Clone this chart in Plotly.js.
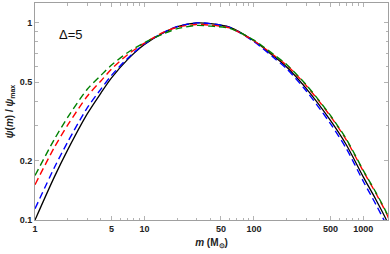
<!DOCTYPE html>
<html>
<head>
<meta charset="utf-8">
<script src="https://cdn.plot.ly/plotly-3.0.1.min.js"></script>
<style>html,body{margin:0;padding:0;background:#fff;}#chart{width:390px;height:254px;}</style>
</head>
<body>
<div id="chart"></div>
<script>
// masses (solar masses)
const mass = [1, 1.5, 2, 3, 4, 5, 7, 10, 15, 20, 30, 40, 60, 100, 150, 200, 300, 500, 700, 1000, 1300, 1650, 1800];
// psi(m)/psi_max
const psiBlack = [0.100, 0.165, 0.228, 0.345, 0.440, 0.525, 0.650, 0.775, 0.890, 0.955, 0.998, 0.990, 0.950, 0.810, 0.680, 0.595, 0.465, 0.320, 0.240, 0.165, 0.127, 0.098, 0.085];
const psiRed   = [0.151, 0.233, 0.304, 0.424, 0.507, 0.582, 0.688, 0.788, 0.896, 0.948, 0.980, 0.972, 0.941, 0.810, 0.688, 0.6075, 0.481, 0.336, 0.254, 0.1764, 0.1367, 0.106, 0.0919];
const psiBlue  = [0.114, 0.184, 0.250, 0.370, 0.461, 0.541, 0.659, 0.780, 0.894, 0.957, 0.998, 0.990, 0.9456, 0.8026, 0.669, 0.583, 0.452, 0.308, 0.2297, 0.1568, 0.120, 0.0923, 0.080];
const psiGreen = [0.168, 0.256, 0.333, 0.460, 0.541, 0.610, 0.7045, 0.793, 0.880, 0.933, 0.969, 0.961, 0.937, 0.816, 0.693, 0.612, 0.485, 0.339, 0.2566, 0.178, 0.138, 0.107, 0.0928];

const xTickVals = [1, 5, 10, 50, 100, 500, 1000];
const xTickText = ["1", "5", "10", "50", "100", "500", "1000"];
const xMinorVals = [2, 3, 4, 6, 7, 8, 9, 20, 30, 40, 60, 70, 80, 90, 200, 300, 400, 600, 700, 800, 900];
const yTickVals = [0.1, 0.2, 0.5, 1];
const yTickText = ["0.1", "0.2", "0.5", "1"];
const yMinorVals = [0.3, 0.4, 0.6, 0.7, 0.8, 0.9];

const mk = (y, color, dash, w) => ({
  x: mass, y: y, type: 'scatter', mode: 'lines',
  line: {color: color, width: w, dash: dash, shape: 'spline', smoothing: 0.8},
  hoverinfo: 'skip', showlegend: false
});

const data = [
  mk(psiBlack, '#000000', 'solid', 1.3),
  mk(psiBlue, '#0000ff', '7px,4px', 1.4),
  mk(psiRed, '#ff0000', '7px,4px', 1.4),
  mk(psiGreen, '#008000', '7px,4px', 1.4)
];

const tickFont = {family: 'Liberation Sans, Arial, sans-serif', size: 9, color: '#222', weight: 'bold'};

const layout = {
  width: 390, height: 254,
  margin: {l: 35, r: 1.5, t: 3, b: 33.5},
  paper_bgcolor: '#fff', plot_bgcolor: '#fff',
  showlegend: false,
  xaxis: {
    type: 'log', range: [0, 3.225],
    showgrid: false, zeroline: false,
    showline: true, linecolor: '#a0a0a0', linewidth: 1, mirror: 'allticks',
    ticks: 'inside', ticklen: 4, tickcolor: '#a0a0a0', tickwidth: 0.8,
    tickmode: 'array', tickvals: xTickVals, ticktext: xTickText,
    tickfont: tickFont,
    minor: {tickmode: 'array', tickvals: xMinorVals, ticks: 'inside', ticklen: 2.5, tickcolor: '#a0a0a0', tickwidth: 0.8, showgrid: false},
    title: {text: '<b><i>m</i> (M<sub>⊙</sub>)</b>', font: {family: 'Liberation Sans, Arial, sans-serif', size: 10, color: '#222'}, standoff: 6}
  },
  yaxis: {
    type: 'log', range: [-1, 0.1],
    showgrid: false, zeroline: false,
    showline: true, linecolor: '#a0a0a0', linewidth: 1, mirror: 'allticks',
    ticks: 'inside', ticklen: 4, tickcolor: '#a0a0a0', tickwidth: 0.8,
    tickmode: 'array', tickvals: yTickVals, ticktext: yTickText,
    tickfont: tickFont,
    minor: {tickmode: 'array', tickvals: yMinorVals, ticks: 'inside', ticklen: 2.5, tickcolor: '#a0a0a0', tickwidth: 0.8, showgrid: false},
    title: {text: '<b><i>ψ</i>(<i>m</i>) / <i>ψ</i><sub>max</sub></b>', font: {family: 'Liberation Sans, Arial, sans-serif', size: 10, color: '#222'}, standoff: 4}
  },
  annotations: [{
    text: 'Δ=5', xref: 'paper', yref: 'paper', x: 0.103, y: 0.855,
    xanchor: 'center', yanchor: 'middle', showarrow: false,
    font: {family: 'Liberation Sans, Arial, sans-serif', size: 13, color: '#111'}
  }]
};

Plotly.newPlot('chart', data, layout, {staticPlot: true, displayModeBar: false});
</script>
</body>
</html>
